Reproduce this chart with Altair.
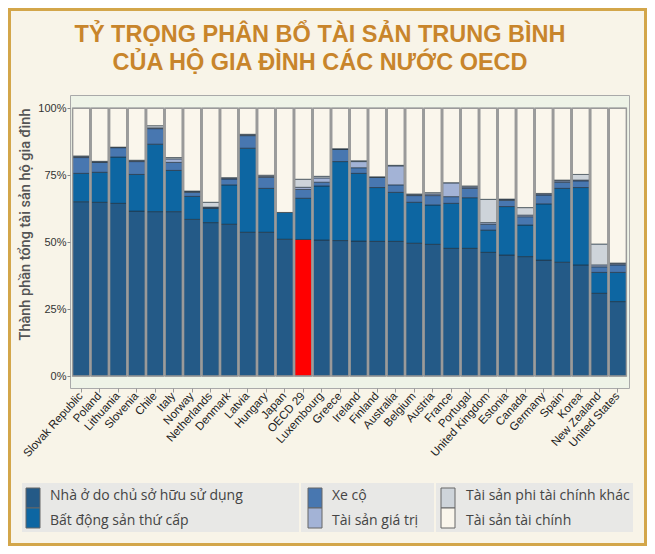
import altair as alt
import pandas as pd

countries = ["Slovak Republic", "Poland", "Lithuania", "Slovenia", "Chile", "Italy", "Norway",
             "Netherlands", "Denmark", "Latvia", "Hungary", "Japan", "OECD 29", "Luxembourg",
             "Greece", "Ireland", "Finland", "Australia", "Belgium", "Austria", "France",
             "Portugal", "United Kingdom", "Estonia", "Canada", "Germany", "Spain", "Korea",
             "New Zealand", "United States"]
owner = [65.1, 64.9, 64.5, 61.6, 61.4, 61.4, 58.5, 57.3, 56.7, 53.7, 53.7, 51.1, 51.0, 50.8,
         50.6, 50.4, 50.3, 50.3, 49.6, 49.2, 47.7, 47.7, 46.2, 45.2, 44.6, 43.3, 42.5, 41.5,
         30.9, 27.8]
secondary = [10.6, 11.2, 17.3, 13.7, 25.2, 15.4, 8.6, 5.3, 14.7, 31.4, 16.4, 10.0, 15.4, 20.2,
             29.5, 25.3, 20.1, 18.3, 15.3, 14.7, 16.8, 18.9, 8.3, 18.1, 11.8, 21.0, 27.6, 28.9,
             7.8, 10.9]
vehicles = [5.9, 3.7, 3.5, 4.8, 5.8, 3.0, 1.5, 0.3, 2.2, 4.7, 4.1, 0.0, 3.3, 1.4,
            4.6, 2.1, 3.8, 2.8, 2.5, 3.5, 2.5, 3.5, 2.2, 2.3, 3.1, 3.3, 2.3, 2.5,
            2.1, 2.8]
valuables = [0.3, 0.2, 0.1, 0.3, 0.3, 1.3, 0.3, 0.2, 0.3, 0.3, 0.4, 0.0, 0.8, 1.6,
             0.1, 2.3, 0.0, 7.1, 0.3, 0.6, 5.2, 0.5, 0.6, 0.3, 0.6, 0.4, 0.5, 0.3,
             0.7, 0.4]
other_nonfin = [0.3, 0.2, 0.1, 0.2, 0.8, 0.5, 0.2, 1.8, 0.2, 0.2, 0.4, 0.0, 3.0, 0.6,
                0.1, 0.3, 0.2, 0.2, 0.3, 0.5, 0.0, 0.4, 8.7, 0.2, 2.8, 0.2, 0.3, 2.1,
                7.8, 0.3]
financial = [17.8, 19.8, 14.5, 19.4, 6.5, 18.4, 30.9, 35.1, 25.9, 9.7, 25.0, 38.9, 26.5, 25.4,
             15.1, 19.6, 25.6, 21.3, 32.0, 31.5, 27.8, 29.0, 34.0, 33.9, 37.1, 31.8, 26.8, 24.7,
             50.7, 57.8]

categories = ["Nhà ở do chủ sở hữu sử dụng", "Bất động sản thứ cấp", "Xe cộ",
              "Tài sản giá trị", "Tài sản phi tài chính khác", "Tài sản tài chính"]
colors = ["#245a87", "#0d66a2", "#4877b0", "#a3b3d6", "#ced4da", "#faf6ec"]
highlight_country = "OECD 29"
highlight_key = "OECD 29 – nhà ở"
highlight_color = "#ff0000"

title_lines = ["TỶ TRỌNG PHÂN BỔ TÀI SẢN TRUNG BÌNH", "CỦA HỘ GIA ĐÌNH CÁC NƯỚC OECD"]
y_title = "Thành phần tổng tài sản hộ gia đình"
y_ticks = [0, 25, 50, 75, 100]

series = [owner, secondary, vehicles, valuables, other_nonfin, financial]
rows = []
for i, c in enumerate(countries):
    for k, s in enumerate(series):
        key = categories[k]
        if c == highlight_country and k == 0:
            key = highlight_key
        rows.append({"country": c, "cat": categories[k], "key": key, "ord": k, "value": s[i]})
df = pd.DataFrame(rows)

LABEL_FONT = "Liberation Sans"
W, H = 559, 293

bars = alt.Chart(df).mark_bar(stroke="#1f2d3b", strokeWidth=0.6).encode(
    x=alt.X("country:N", sort=countries,
            scale=alt.Scale(paddingInner=0.07, paddingOuter=0.14),
            axis=alt.Axis(title=None, labelAngle=-48, labelFontSize=11.5, labelColor="#222",
                          labelFont=LABEL_FONT, tickSize=4, tickColor="#999", domain=False,
                          labelPadding=2)),
    y=alt.Y("value:Q", stack="zero",
            scale=alt.Scale(domain=[-4.48, 104.97], nice=False, zero=False),
            axis=alt.Axis(values=y_ticks, labelExpr="datum.value + '%'", grid=False,
                          domain=False, tickSize=3, tickColor="#888", labelFontSize=11,
                          labelColor="#333", labelFont=LABEL_FONT, labelPadding=1,
                          title=y_title, titleX=-45, titleY=129, titleAngle=-90,
                          titleAlign="center", titleBaseline="middle", titleFontSize=14.5,
                          titleFont="Roboto", titleFontWeight=500, titleColor="#555")),
    color=alt.Color("key:N", scale=alt.Scale(domain=categories + [highlight_key],
                                             range=colors + [highlight_color]), legend=None),
    order=alt.Order("ord:Q", sort="ascending"),
)

outline = alt.Chart(pd.DataFrame({"country": countries})).transform_calculate(
    lo="0", hi="100"
).mark_bar(fillOpacity=0, stroke="#9a9a9a", strokeWidth=1.4).encode(
    x=alt.X("country:N", sort=countries),
    y=alt.Y("lo:Q", title=y_title),
    y2="hi:Q",
)

one = pd.DataFrame({"k": [0]})

frame = alt.Chart(one).mark_rect(fillOpacity=0, stroke="#d3a64a", strokeWidth=3).encode(
    x=alt.value(-60.5), x2=alt.value(W + 16.5), y=alt.value(-85.5), y2=alt.value(H + 156.5))

layers = [frame]

# legend background boxes
for (x0, x1) in [(-48, 229), (231, 364), (366, 563)]:
    layers.append(alt.Chart(one).mark_rect(fill="#e8e8e6").encode(
        x=alt.value(x0), x2=alt.value(x1), y=alt.value(388), y2=alt.value(437)))

layers += [bars, outline]

sym_x = [-44, 238, 371]
lab_x = [-20, 262, 396]
for idx, cat in enumerate(categories):
    col, row = idx // 2, idx % 2
    y0 = 393 + row * 20
    layers.append(alt.Chart(one).mark_rect(fill=colors[idx], stroke="#666", strokeWidth=1).encode(
        x=alt.value(sym_x[col]), x2=alt.value(sym_x[col] + 14),
        y=alt.value(y0), y2=alt.value(y0 + 20)))
    layers.append(alt.Chart(one).mark_text(
        text=cat, align="left", baseline="middle", fontSize=14, font="Open Sans",
        color="#444").encode(x=alt.value(lab_x[col]), y=alt.value(401 + row * 25)))

for j, line in enumerate(title_lines):
    layers.append(alt.Chart(one).mark_text(
        text=line, align="center", baseline="alphabetic", fontSize=23.5, font="Liberation Sans",
        fontWeight="bold", color="#c8852b").encode(x=alt.value(250), y=alt.value(-53 + 28 * j)))

chart = alt.layer(*layers).properties(
    width=W, height=H,
    autosize=alt.AutoSizeParams(type="none"),
    padding={"left": 62, "top": 87, "right": 18, "bottom": 158},
    background="#f8f4e8",
).configure_view(fill="#eef3e7", stroke="#a9a9a9", strokeWidth=1)

chart.save("out.html", embed_options={"renderer": "svg", "actions": False})
